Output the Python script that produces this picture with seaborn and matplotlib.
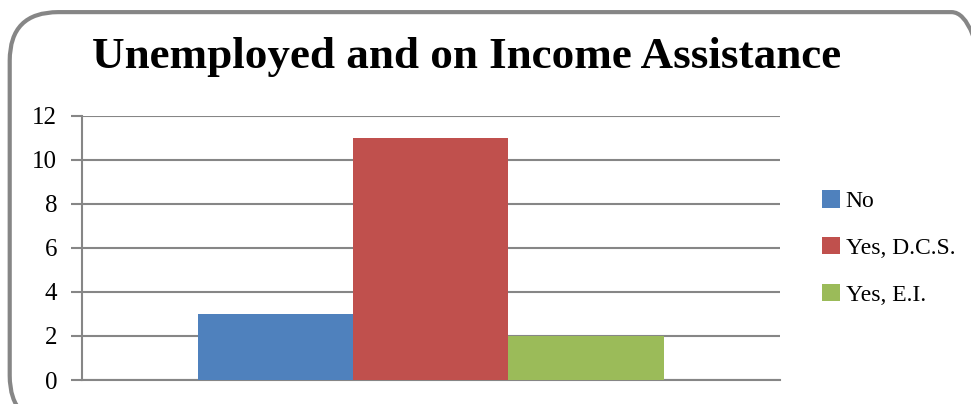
import pandas as pd
import matplotlib
matplotlib.use('Agg')
from matplotlib import pyplot as plt
from matplotlib.patches import FancyBboxPatch
import seaborn as sns

categories = ["Unemployed"]
answers = ["No", "Yes, D.C.S.", "Yes, E.I."]
counts = [3, 11, 2]
colors = ["#4f81bd", "#c0504d", "#9bbb59"]
yticks = [0, 2, 4, 6, 8, 10, 12]

df = pd.DataFrame({"cat": categories * len(answers), "answer": answers, "count": counts})

sns.set_style("white")
plt.rcParams['font.family'] = ['Liberation Serif', 'DejaVu Serif']
plt.rcParams['text.color'] = 'black'
plt.rcParams['ytick.labelcolor'] = 'black'

fig = plt.figure(figsize=(9.71, 4.04), dpi=100)
ax = fig.add_axes([0.0845, 0.0594, 0.7185, 0.6536])

sns.barplot(data=df, x="cat", y="count", hue="answer", palette=colors,
            width=0.667, saturation=1, gap=0, linewidth=0, ax=ax, zorder=3)

ax.set_ylim(0, 12)
ax.set_xlim(-0.5, 0.5)
ax.set_yticks(yticks)
ax.set_xticks([])
ax.set_xlabel("")
ax.set_ylabel("")
grey = "#868686"
ax.yaxis.grid(True, color=grey, linewidth=1.5, zorder=0)
ax.set_axisbelow(True)
for s in ["top", "right"]:
    ax.spines[s].set_visible(False)
for s in ["left", "bottom"]:
    ax.spines[s].set_color(grey)
    ax.spines[s].set_linewidth(1.5)
ax.tick_params(axis="y", left=True, length=8, width=1.5, color=grey,
               labelsize=18, pad=10)

leg = ax.legend(loc="center left", bbox_to_anchor=(1.03, 0.5), frameon=False,
                fontsize=17, handlelength=0.75, handleheight=0.75,
                handletextpad=0.25, labelspacing=1.05)
for t in leg.get_texts():
    t.set_color("black")

fig.text(0.48, 0.832, "Unemployed and on Income Assistance", ha="center", va="baseline",
         fontsize=32.5, fontweight="bold", color="black")

frame = FancyBboxPatch((0.01, -0.05), 1.02, 1.02,
                       boxstyle="round,pad=0,rounding_size=0.05",
                       transform=fig.transFigure, facecolor="none",
                       edgecolor=grey, linewidth=3, clip_on=False,
                       mutation_aspect=971 / 404)
fig.patches.append(frame)

fig.savefig("out.png", dpi=100)
